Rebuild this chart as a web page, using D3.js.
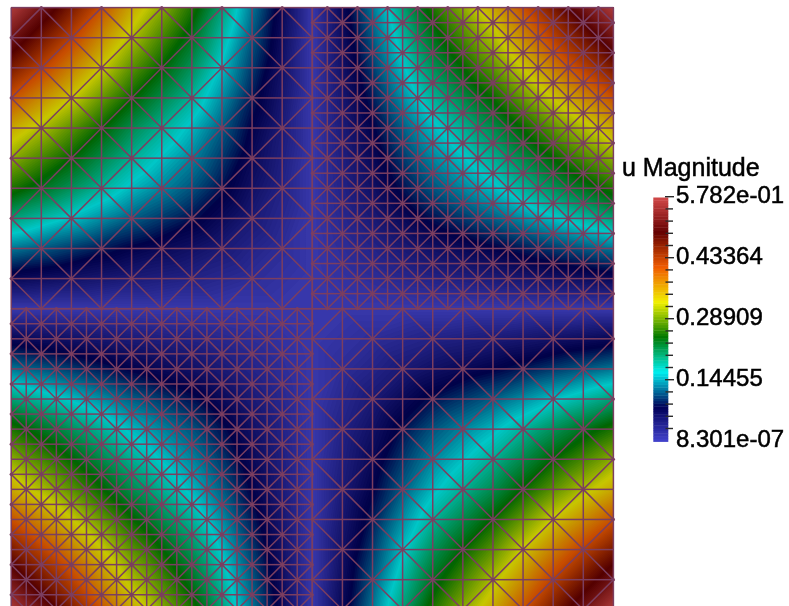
<!DOCTYPE html>
<html>
<head>
<meta charset="utf-8">
<script src="https://cdn.jsdelivr.net/npm/d3@7"></script>
<style>
html,body{margin:0;padding:0;background:#fff;overflow:hidden}
svg{display:block;filter:blur(0.5px)}
text{font-family:"Liberation Sans",Arial,sans-serif;fill:#000;stroke:#000;stroke-width:0.5px}
</style>
</head>
<body>
<div id="chart"></div>
<script>
// Values: magnitude along the top edge and relative factor down the left edge, at 41 mesh lines.
const topEdgeU = [0.578,0.549,0.523,0.497,0.468,0.439,0.410,0.382,0.353,0.332,0.306,0.283,0.260,0.231,0.199,0.165,0.132,0.101,0.071,0.036,0.000,
                  0.036,0.071,0.101,0.132,0.165,0.199,0.231,0.260,0.283,0.306,0.332,0.353,0.382,0.410,0.439,0.468,0.497,0.523,0.549,0.578];
const leftEdgeFactor = [1.000,0.950,0.905,0.860,0.810,0.760,0.710,0.660,0.610,0.573,0.530,0.490,0.450,0.400,0.345,0.286,0.228,0.175,0.123,0.062,0.000,
                  0.062,0.123,0.175,0.228,0.286,0.345,0.400,0.450,0.490,0.530,0.573,0.610,0.660,0.710,0.760,0.810,0.860,0.905,0.950,1.000];
const colorStops = [0,1/7,2/7,3/7,4/7,5/7,6/7,1];
const colorRamp = ["#4747db","#00005c","#00ffff","#008000","#ffff00","#ff6100","#6b0000","#e04d4d"];
const legendTitle = "u Magnitude";
const legendLabels = ["5.782e-01","0.43364","0.28909","0.14455","8.301e-07"];
const legendLabelValues = [0.5782,0.43364,0.28909,0.14455,8.301e-7];
const tickCount = 20;
const uMin = 8.301e-7, uMax = 0.5782;
const meshLevels = {TL:2,TR:1,BL:1,BR:2}; // node stride per quadrant
const meshColor = "#7b3e60";
const fieldShade = 0.78, barShade = 0.94;

const W=789,H=606,N=40,MID=20;
const xNode=d3.scaleLinear().domain([0,N]).range([11.2,613.4]);
const yNode=d3.scaleLinear().domain([0,N]).range([7.6,609.8]);
const colorT=d3.scaleLinear().domain(colorStops.map(s=>uMin+s*(uMax-uMin))).range(colorRamp).interpolate(d3.interpolateRgb);
const shaded=(v,k)=>{const c=d3.rgb(colorT(v));return d3.rgb(c.r*k,c.g*k,c.b*k).formatRgb();};

const nodeU=(i,j)=>topEdgeU[i]*leftEdgeFactor[j];
function levelAt(i,j){return i<MID?(j<MID?meshLevels.TL:meshLevels.BL):(j<MID?meshLevels.TR:meshLevels.BR);}

// Piecewise-linear value on the triangle that holds the point (fi,fj in node units)
function fieldAt(fi,fj){
  fi=Math.min(Math.max(fi,0),N-1e-6);fj=Math.min(Math.max(fj,0),N-1e-6);
  const h=levelAt(Math.floor(fi),Math.floor(fj));
  const a=Math.floor(fi/h),b=Math.floor(fj/h);
  const s=fi/h-a,t=fj/h-b;
  const i0=a*h,i1=(a+1)*h,j0=b*h,j1=(b+1)*h;
  const u00=nodeU(i0,j0),u10=nodeU(i1,j0),u01=nodeU(i0,j1),u11=nodeU(i1,j1);
  if((a+b)%2){ // diagonal (0,0)-(1,1)
    return s>=t? u00+s*(u10-u00)+t*(u11-u10) : u00+t*(u01-u00)+s*(u11-u01);
  }
  // diagonal (1,0)-(0,1)
  return s+t<=1? u00+s*(u10-u00)+t*(u01-u00) : u11+(1-s)*(u01-u11)+(1-t)*(u10-u11);
}

const svg=d3.select("#chart").append("svg").attr("width",W).attr("height",H).attr("viewBox",`0 0 ${W} ${H}`);
svg.append("rect").attr("width",W).attr("height",H).attr("fill","#fff");
const x0=xNode(0),y0=yNode(0),pw=xNode(N)-x0,ph=yNode(N)-y0;
svg.append("clipPath").attr("id","dom").append("rect").attr("x",x0).attr("y",y0).attr("width",pw).attr("height",ph);

// Filled field
const GN=302,dx=pw/(GN-1),dy=ph/(GN-1);
const grid=new Float64Array(GN*GN);
for(let r=0;r<GN;r++)for(let c=0;c<GN;c++){grid[r*GN+c]=fieldAt(c/(GN-1)*N,r/(GN-1)*N);}
const levels=d3.range(0,170).map(k=>uMin+(uMax-uMin)*k/170);
const bands=d3.contours().size([GN,GN]).thresholds(levels)(grid);
const field=svg.append("g").attr("clip-path","url(#dom)");
field.append("rect").attr("x",x0).attr("y",y0).attr("width",pw).attr("height",ph).attr("fill",shaded(uMin,fieldShade));
field.append("g")
  .attr("transform",`translate(${x0-dx/2},${y0-dy/2}) scale(${dx},${dy})`)
  .selectAll("path").data(bands).join("path")
  .attr("d",d3.geoPath()).attr("fill",d=>shaded(d.value+(uMax-uMin)/340,fieldShade)).attr("stroke","none");

// Mesh
const seen=new Set(),edges=[],stars=[];
function addEdge(a,b,c,d){
  const k=a<c||(a===c&&b<d)?`${a},${b},${c},${d}`:`${c},${d},${a},${b}`;
  if(!seen.has(k)){seen.add(k);edges.push({a,b,c,d});}
}
const starSeen=new Set();
function addStar(a,b){const k=a+","+b;if(!starSeen.has(k)){starSeen.add(k);stars.push({a,b});}}
for(let j=0;j<N;j++)for(let i=0;i<N;i++){
  const h=levelAt(i,j);
  if(i%h||j%h)continue;
  const p=i/h,q=j/h;
  addEdge(i,j,i+h,j);addEdge(i,j,i,j+h);addEdge(i+h,j,i+h,j+h);addEdge(i,j+h,i+h,j+h);
  if((p+q)%2){addEdge(i,j,i+h,j+h);addStar(i,j);addStar(i+h,j+h);}
  else{addEdge(i+h,j,i,j+h);addStar(i+h,j);addStar(i,j+h);}
}
const meshG=svg.append("g");
meshG.append("g").selectAll("line").data(edges).join("line")
  .attr("x1",d=>xNode(d.a)).attr("y1",d=>yNode(d.b)).attr("x2",d=>xNode(d.c)).attr("y2",d=>yNode(d.d))
  .attr("stroke",meshColor).attr("stroke-width",1.5);
meshG.append("g").selectAll("circle").data(stars).join("circle")
  .attr("cx",d=>xNode(d.a)).attr("cy",d=>yNode(d.b)).attr("r",1.6).attr("fill",meshColor);

// Colour bar
const barY=d3.scaleLinear().domain([uMin,uMax]).range([441.7,197.7]);
const barSteps=d3.range(0,90).map(k=>uMin+(uMax-uMin)*k/90);
const barH=(barY.range()[0]-barY.range()[1])/90;
const legend=svg.append("g");
legend.append("g").selectAll("rect").data(barSteps).join("rect")
  .attr("x",653.3).attr("width",15).attr("y",d=>barY(d)-barH-0.2).attr("height",barH+0.4)
  .attr("fill",d=>shaded(d+(uMax-uMin)/180,barShade));
const tickVals=d3.range(1,tickCount+1).map(k=>uMin+(uMax-uMin)*k/tickCount);
legend.append("g").selectAll("line").data(tickVals).join("line")
  .attr("x1",(d,i)=>(tickCount-1-i)%5===0?665:665.5).attr("x2",(d,i)=>(tickCount-1-i)%5===0?674:673)
  .attr("y1",d=>barY(d)-1).attr("y2",d=>barY(d)-1)
  .attr("stroke","#2a2a2a").attr("stroke-width",1.4);
legend.append("text").attr("x",622).attr("y",175.5).attr("font-size",25).text(legendTitle);
legend.append("g").selectAll("text").data(legendLabels).join("text")
  .attr("x",676).attr("y",(d,i)=>barY(legendLabelValues[i])+5.6)
  .attr("font-size",24).text(d=>d);
</script>
</body>
</html>
